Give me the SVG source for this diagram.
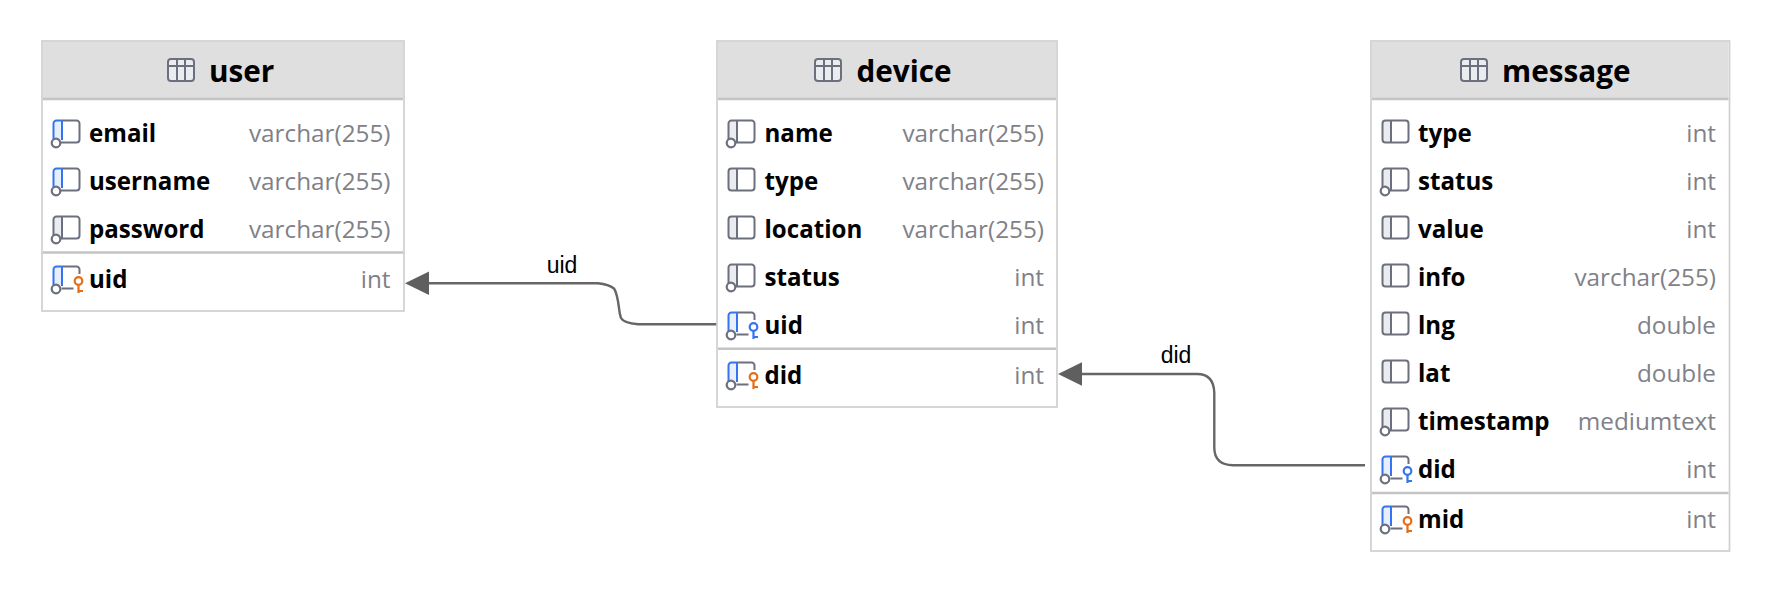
<svg xmlns="http://www.w3.org/2000/svg" width="1770" height="592" viewBox="0 0 1770 592">
<style>
text{font-family:"Open Sans","Noto Sans","Liberation Sans",sans-serif}
.box{fill:#fff;stroke:#cfcfcf;stroke-width:1.700}
.head{fill:#dfdfdf}
.sep{stroke:#c4c4c4;stroke-width:2.400;fill:none}
.title{font-size:29.700px;font-weight:700;fill:#000}
.name{font-size:24.100px;font-weight:700;fill:#000}
.dt{font-size:24.300px;fill:#7f8189;text-anchor:end}
.lbl{font-family:"Liberation Sans",Arial,sans-serif;font-size:23px;fill:#000;text-anchor:middle}
.conn{fill:none;stroke:#666;stroke-width:2.400}
.head-arrow{fill:#5f5f5f}
.ic{fill:none;stroke:#6c707e;stroke-width:2}
.icg{fill:#ebecf0;stroke:none}
.icb{fill:#e7effd;stroke:none}
.bl{fill:none;stroke:#3574f0;stroke-width:2}
.kb{fill:none;stroke:#3574f0;stroke-width:2.200}
.ko{fill:none;stroke:#e66d17;stroke-width:2.200}
.dot{fill:#fff;stroke:#6c707e;stroke-width:2.200}
</style>
<defs>
<g id="tbl">
<rect x="1" y="1" width="26" height="22" rx="3" fill="#ebecf0" stroke="#6c707e" stroke-width="2"/>
<path d="M1 8H27M10 1V23M18 1V23" class="ic"/>
</g>
<g id="plain">
<path d="M1 3.500a3 3 0 0 1 3-3H9.500V23H4a3 3 0 0 1-3-3Z" class="icg"/>
<rect x="1" y="0.500" width="26" height="22" rx="3" class="ic"/>
<path d="M9.500 .5V22.500" class="ic"/>
</g>
<g id="nn">
<path d="M1 3.500a3 3 0 0 1 3-3H9.500V20H1Z" class="icg"/>
<path d="M1 19V3.500a3 3 0 0 1 3-3H24a3 3 0 0 1 3 3V19.500a3 3 0 0 1-3 3H8M9.500 .5V22.500" class="ic"/>
<circle cx="3.500" cy="23" r="4.300" class="dot"/>
</g>
<g id="idx">
<path d="M1 3.500a3 3 0 0 1 3-3H9.500V20H1Z" class="icb"/>
<path d="M9.500 .5H24a3 3 0 0 1 3 3V19.500a3 3 0 0 1-3 3H8" class="ic"/>
<path d="M1 19V3.500a3 3 0 0 1 3-3H9.500M9.500 .5V20" class="bl"/>
<circle cx="3.500" cy="23" r="4.300" class="dot"/>
</g>
<g id="keybase">
<path d="M1 3.500a3 3 0 0 1 3-3H9.500V20H1Z" class="icb"/>
<path d="M9.500 .5H24a3 3 0 0 1 3 3V8M9 22.500H21" class="ic"/>
<path d="M1 19V3.500a3 3 0 0 1 3-3H9.500M9.500 .5V20" class="bl"/>
<circle cx="3.500" cy="23" r="4.300" class="dot"/>
</g>
<g id="pk"><use href="#keybase"/><circle cx="26" cy="15" r="3.800" class="ko"/><path d="M26 18.800V27M26 25H30.500" class="ko"/></g>
<g id="fk"><use href="#keybase"/><circle cx="26" cy="15" r="3.800" class="kb"/><path d="M26 18.800V27M26 25H30.500" class="kb"/></g>
</defs>

<g id="connectors">
<path class="conn" d="M717 324.300H638C630 323.500 623 322 621 318C619.500 314 619.300 311 619 308C618 300 617 293 614 288.500C610 285.500 604 284 598 283.300H428"/>
<path class="head-arrow" d="M405 283.300L429 271.600V295Z"/>
<text class="lbl" x="562" y="272.500">uid</text>
<path class="conn" d="M1365 465.300H1233C1222 465 1214.500 460 1214.300 448V393C1214 382 1209 374 1197 374H1081"/>
<path class="head-arrow" d="M1058 374L1082 362.300V385.700Z"/>
<text class="lbl" x="1176" y="362.500">did</text>
</g>

<g id="user">
<rect class="box" x="42" y="41" width="362" height="270"/>
<rect class="head" x="43" y="42" width="360" height="56"/>
<path class="sep" d="M43 99H403M43 252.500H403"/>
<use href="#tbl" x="167" y="58"/>
<text class="title" x="209" y="81.500">user</text>
<use href="#idx" x="52.500" y="120"/><text class="name" x="89" y="141.500">email</text><text class="dt" x="390.500" y="141.500">varchar(255)</text>
<use href="#idx" x="52.500" y="168"/><text class="name" x="89" y="189.500">username</text><text class="dt" x="390.500" y="189.500">varchar(255)</text>
<use href="#nn" x="52.500" y="216"/><text class="name" x="89" y="237.500">password</text><text class="dt" x="390.500" y="237.500">varchar(255)</text>
<use href="#pk" x="52.500" y="266"/><text class="name" x="89" y="288">uid</text><text class="dt" x="390.500" y="288">int</text>
</g>

<g id="device">
<rect class="box" x="717" y="41" width="340" height="366"/>
<rect class="head" x="718" y="42" width="338" height="56"/>
<path class="sep" d="M718 99H1056M718 348.700H1056"/>
<use href="#tbl" x="814" y="58"/>
<text class="title" x="856.500" y="81.500">device</text>
<use href="#nn" x="727.500" y="120"/><text class="name" x="764.500" y="141.500">name</text><text class="dt" x="1044" y="141.500">varchar(255)</text>
<use href="#plain" x="727.500" y="168"/><text class="name" x="764.500" y="189.500">type</text><text class="dt" x="1044" y="189.500">varchar(255)</text>
<use href="#plain" x="727.500" y="216"/><text class="name" x="764.500" y="237.500">location</text><text class="dt" x="1044" y="237.500">varchar(255)</text>
<use href="#nn" x="727.500" y="264"/><text class="name" x="764.500" y="285.500">status</text><text class="dt" x="1044" y="285.500">int</text>
<use href="#fk" x="727.500" y="312"/><text class="name" x="764.500" y="333.500">uid</text><text class="dt" x="1044" y="333.500">int</text>
<use href="#pk" x="727.500" y="362"/><text class="name" x="764.500" y="384">did</text><text class="dt" x="1044" y="384">int</text>
</g>

<g id="message">
<rect class="box" x="1371" y="41" width="358.500" height="510"/>
<rect class="head" x="1372" y="42" width="356.500" height="56"/>
<path class="sep" d="M1372 99H1728.500M1372 493H1728.500"/>
<use href="#tbl" x="1460" y="58"/>
<text class="title" x="1502" y="81.500">message</text>
<use href="#plain" x="1381.500" y="120"/><text class="name" x="1418" y="141.500">type</text><text class="dt" x="1716" y="141.500">int</text>
<use href="#nn" x="1381.500" y="168"/><text class="name" x="1418" y="189.500">status</text><text class="dt" x="1716" y="189.500">int</text>
<use href="#plain" x="1381.500" y="216"/><text class="name" x="1418" y="237.500">value</text><text class="dt" x="1716" y="237.500">int</text>
<use href="#plain" x="1381.500" y="264"/><text class="name" x="1418" y="285.500">info</text><text class="dt" x="1716" y="285.500">varchar(255)</text>
<use href="#plain" x="1381.500" y="312"/><text class="name" x="1418" y="333.500">lng</text><text class="dt" x="1716" y="333.500">double</text>
<use href="#plain" x="1381.500" y="360"/><text class="name" x="1418" y="381.500">lat</text><text class="dt" x="1716" y="381.500">double</text>
<use href="#nn" x="1381.500" y="408"/><text class="name" x="1418" y="429.500">timestamp</text><text class="dt" x="1716" y="429.500">mediumtext</text>
<use href="#fk" x="1381.500" y="456"/><text class="name" x="1418" y="477.500">did</text><text class="dt" x="1716" y="477.500">int</text>
<use href="#pk" x="1381.500" y="506"/><text class="name" x="1418" y="528">mid</text><text class="dt" x="1716" y="528">int</text>
</g>
</svg>
